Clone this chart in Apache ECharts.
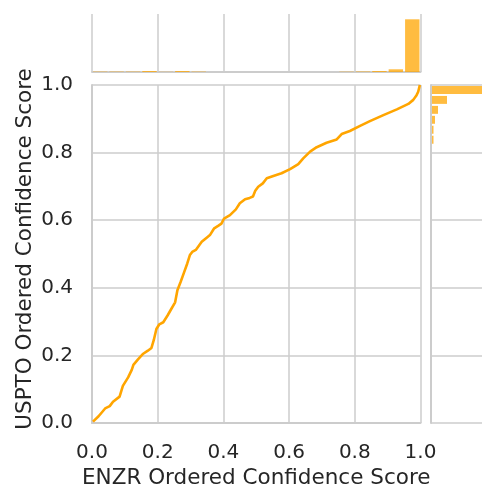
<!DOCTYPE html>
<html>
<head>
<meta charset="utf-8">
<script src="https://cdn.jsdelivr.net/npm/echarts@6/dist/echarts.min.js"></script>
<style>
html,body{margin:0;padding:0;background:#fff;}
#chart{width:482px;height:488px;}
</style>
</head>
<body>
<div id="chart"></div>
<script>
// Ordered confidence score curve (ENZR on x, USPTO on y)
var enzrOrdered = [0.003, 0.02, 0.04, 0.054, 0.064, 0.084, 0.094, 0.11, 0.121, 0.126, 0.14, 0.156, 0.17, 0.181, 0.188, 0.196, 0.205, 0.217, 0.23, 0.24, 0.253, 0.26, 0.27, 0.28, 0.29, 0.298, 0.305, 0.316, 0.334, 0.35, 0.359, 0.372, 0.385, 0.394, 0.402, 0.42, 0.438, 0.45, 0.466, 0.48, 0.49, 0.497, 0.506, 0.52, 0.532, 0.552, 0.577, 0.603, 0.628, 0.643, 0.664, 0.684, 0.714, 0.745, 0.76, 0.785, 0.816, 0.846, 0.887, 0.928, 0.963, 0.978, 0.988, 0.993, 0.998];
var usptoOrdered = [0.004, 0.02, 0.043, 0.050, 0.063, 0.078, 0.110, 0.135, 0.157, 0.172, 0.188, 0.205, 0.214, 0.222, 0.245, 0.278, 0.292, 0.298, 0.318, 0.335, 0.357, 0.393, 0.418, 0.445, 0.472, 0.497, 0.506, 0.512, 0.536, 0.549, 0.556, 0.576, 0.584, 0.590, 0.605, 0.615, 0.632, 0.650, 0.662, 0.666, 0.670, 0.687, 0.699, 0.709, 0.724, 0.731, 0.739, 0.751, 0.766, 0.783, 0.803, 0.816, 0.829, 0.839, 0.855, 0.864, 0.879, 0.893, 0.911, 0.928, 0.944, 0.956, 0.970, 0.980, 1.0];

// Top marginal histogram: 20 bins of width 0.05 over [0, 1]
var enzrHistCounts = [0.4, 0.4, 0.4, 1.0, 0.2, 1.0, 0.4, 0, 0, 0, 0, 0, 0, 0, 0, 0.3, 0.5, 1.0, 2.7, 52.7];
// Right marginal histogram: 34 bins over [0, 1]
var usptoHistCounts = [0,0,0,0,0,0,0,0,0,0,0,0,0,0,0,0,0,0,0,0,0,0,0,0,0,0,0,0,1.5,1.5,3,6,15,50];

var tickValues = [0, 0.2, 0.4, 0.6, 0.8, 1.0];
var xLabel = 'ENZR Ordered Confidence Score';
var yLabel = 'USPTO Ordered Confidence Score';

function binsFrom(counts) {
  var n = counts.length, out = [];
  for (var i = 0; i < n; i++) out.push([i / n, (i + 1) / n, counts[i]]);
  return out;
}

var FONT = 'DejaVu Sans';
var TXT = '#262626';
var GRIDC = '#cccccc';
var BARC = 'rgba(255,165,0,0.75)';

var chart = echarts.init(document.getElementById('chart'), null, {renderer: 'canvas'});

var option = {
  animation: false,
  backgroundColor: '#ffffff',
  grid: [
    {left: 92, top: 85, width: 328.5, height: 338, outerBoundsMode: 'none', containLabel: false},
    {left: 92, top: 14, width: 328.5, height: 58, outerBoundsMode: 'none', containLabel: false},
    {left: 431, top: 85, width: 51, height: 338, outerBoundsMode: 'none', containLabel: false}
  ],
  xAxis: [
    {
      gridIndex: 0, type: 'value', min: 0, max: 1, interval: 0.2,
      name: xLabel, nameLocation: 'middle', nameGap: 43,
      nameTextStyle: {fontFamily: FONT, fontSize: 21.5, color: TXT},
      axisLine: {show: true, lineStyle: {color: GRIDC, width: 2}},
      axisTick: {show: false},
      axisLabel: {fontFamily: FONT, fontSize: 20, color: TXT, margin: 20,
        formatter: function (v) { return v.toFixed(1); }},
      splitLine: {show: true, lineStyle: {color: GRIDC, width: 1.5}}
    },
    {
      gridIndex: 1, type: 'value', min: 0, max: 1, interval: 0.2,
      axisLine: {show: true, lineStyle: {color: GRIDC, width: 2}},
      axisTick: {show: false}, axisLabel: {show: false},
      splitLine: {show: true, lineStyle: {color: GRIDC, width: 1.5}}
    },
    {
      gridIndex: 2, type: 'value', min: 0, max: 51,
      axisLine: {show: false}, axisTick: {show: false}, axisLabel: {show: false},
      splitLine: {show: false}
    }
  ],
  yAxis: [
    {
      gridIndex: 0, type: 'value', min: 0, max: 1, interval: 0.2,
      name: yLabel, nameLocation: 'middle', nameGap: 56, nameMoveOverlap: false,
      nameTextStyle: {fontFamily: FONT, fontSize: 21.5, color: TXT, padding: [0, 0, 0, 10]},
      axisLine: {show: true, lineStyle: {color: GRIDC, width: 2}},
      axisTick: {show: false},
      axisLabel: {fontFamily: FONT, fontSize: 20, color: TXT, margin: 19,
        formatter: function (v) { return v.toFixed(1); }},
      splitLine: {show: true, lineStyle: {color: GRIDC, width: 1.5}}
    },
    {
      gridIndex: 1, type: 'value', min: 0, max: 58,
      axisLine: {show: false}, axisTick: {show: false}, axisLabel: {show: false},
      splitLine: {show: false}
    },
    {
      gridIndex: 2, type: 'value', min: 0, max: 1, interval: 0.2,
      axisLine: {show: true, lineStyle: {color: GRIDC, width: 2}},
      axisTick: {show: false}, axisLabel: {show: false},
      splitLine: {show: true, lineStyle: {color: GRIDC, width: 1.5}}
    }
  ],
  series: [
    {
      type: 'line', xAxisIndex: 0, yAxisIndex: 0,
      data: enzrOrdered.map(function (x, i) { return [x, usptoOrdered[i]]; }),
      showSymbol: false, symbol: 'none',
      lineStyle: {color: '#FFA500', width: 2.6}, z: 5
    },
    {
      type: 'custom', xAxisIndex: 1, yAxisIndex: 1,
      data: binsFrom(enzrHistCounts),
      renderItem: function (params, api) {
        var c = api.value(2);
        if (c <= 0) return;
        var p0 = api.coord([api.value(0), c]);
        var p1 = api.coord([api.value(1), 0]);
        return {type: 'rect', shape: {x: p0[0] + 1, y: p0[1], width: p1[0] - p0[0] - 2, height: p1[1] - p0[1]},
          style: {fill: BARC}};
      }, z: 3
    },
    {
      type: 'custom', xAxisIndex: 2, yAxisIndex: 2,
      data: binsFrom(usptoHistCounts),
      renderItem: function (params, api) {
        var c = api.value(2);
        if (c <= 0) return;
        var p0 = api.coord([0, api.value(1)]);
        var p1 = api.coord([c, api.value(0)]);
        return {type: 'rect', shape: {x: p0[0] + 1, y: p0[1] + 1, width: p1[0] - p0[0], height: p1[1] - p0[1] - 2},
          style: {fill: BARC}};
      }, z: 3
    }
  ]
};
chart.setOption(option);
</script>
</body>
</html>
